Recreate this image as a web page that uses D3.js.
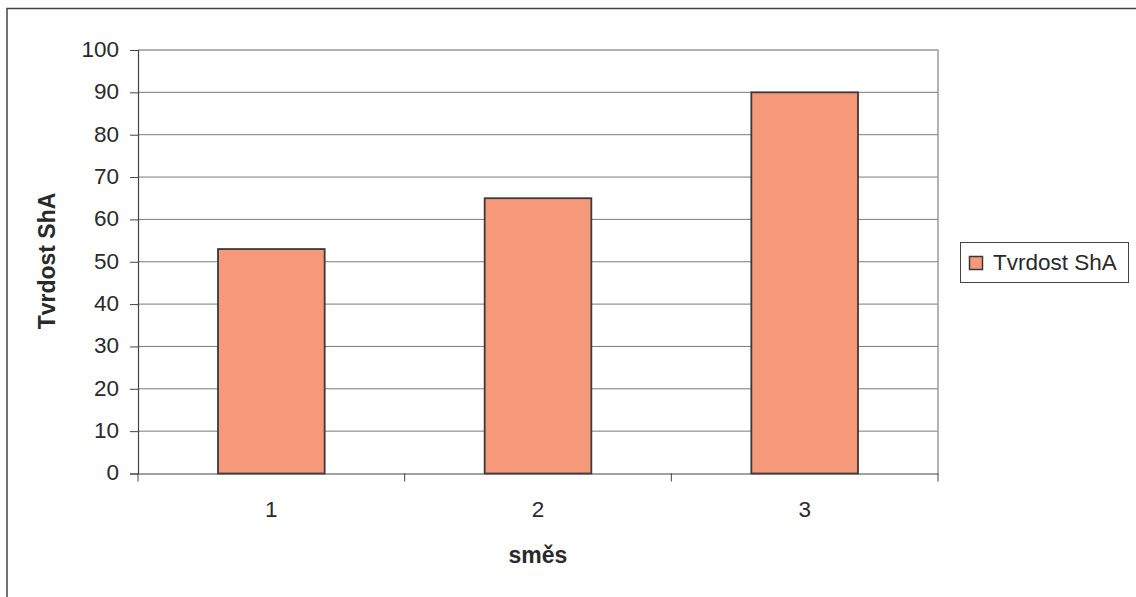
<!DOCTYPE html>
<html>
<head>
<meta charset="utf-8">
<script src="https://cdn.jsdelivr.net/npm/d3@7"></script>
<style>
  body { margin: 0; background: #fff; }
  svg { display: block; font-family: "Liberation Sans", Arial, sans-serif; }
</style>
</head>
<body>
<svg id="chart" width="1136" height="597"></svg>
<script>
// Hardness (Shore A) per mixture
const categories = ["1", "2", "3"];
const hardness = [53, 65, 90];
const yTicks = [0, 10, 20, 30, 40, 50, 60, 70, 80, 90, 100];
const seriesName = "Tvrdost ShA";
const xTitle = "směs";
const yTitle = "Tvrdost ShA";

const svg = d3.select("#chart");
const plot = { left: 138, top: 50, right: 938, bottom: 473.5 };
const textColor = "#2a2a2a";
const fontSize = 22.5;

// outer chart frame
svg.append("rect")
  .attr("x", 7).attr("y", 8.5)
  .attr("width", 1200).attr("height", 700)
  .attr("fill", "none").attr("stroke", "#444").attr("stroke-width", 1.5);

const xOuter = d3.scaleBand().domain(categories).range([plot.left, plot.right]);
const y = d3.scaleLinear().domain([0, 100]).range([plot.bottom, plot.top]);

// gridlines
svg.append("g").selectAll("line").data(yTicks.filter(d => d > 0 && d < 100)).join("line")
  .attr("x1", plot.left).attr("x2", plot.right)
  .attr("y1", d => y(d)).attr("y2", d => y(d))
  .attr("stroke", "#7a7a7a").attr("stroke-width", 1);

// plot border (top & right)
svg.append("path")
  .attr("d", `M${plot.left},${y(100)}H${plot.right}V${plot.bottom}`)
  .attr("fill", "none").attr("stroke", "#a09898").attr("stroke-width", 1.5);

// bars
svg.append("g").selectAll("rect").data(hardness).join("rect")
  .attr("x", (d, i) => xOuter(categories[i]) + xOuter.bandwidth() * 0.3)
  .attr("width", xOuter.bandwidth() * 0.4)
  .attr("y", d => y(d))
  .attr("height", d => y(0) - y(d))
  .attr("fill", "#f5997a").attr("stroke", "#3a3a3a").attr("stroke-width", 1.8);

// y axis
const yAxis = svg.append("g").attr("transform", `translate(${plot.left},0)`)
  .call(d3.axisLeft(y).tickValues(yTicks).tickSize(8).tickPadding(11).tickFormat(d3.format("d")));
yAxis.select(".domain").attr("stroke", "#444").attr("stroke-width", 1.2);
yAxis.selectAll(".tick line").attr("stroke", "#444");
yAxis.selectAll("text").attr("font-size", fontSize).attr("fill", textColor)
  .attr("font-family", "Liberation Sans, Arial, sans-serif")
  .attr("dy", "0.28em");

// x axis
const xAxis = svg.append("g").attr("transform", `translate(0,${plot.bottom})`)
  .call(d3.axisBottom(xOuter).tickSize(0).tickPadding(28));
xAxis.select(".domain").attr("stroke", "#444").attr("stroke-width", 1.2);
xAxis.selectAll("text").attr("font-size", fontSize).attr("fill", textColor)
  .attr("font-family", "Liberation Sans, Arial, sans-serif");
// category boundary ticks
const bounds = categories.map(c => xOuter(c)).concat([plot.right]);
svg.append("g").selectAll("line").data(bounds).join("line")
  .attr("x1", d => d).attr("x2", d => d)
  .attr("y1", plot.bottom).attr("y2", plot.bottom + 8)
  .attr("stroke", "#444");

// axis titles
svg.append("text").attr("x", (plot.left + plot.right) / 2).attr("y", 563)
  .attr("text-anchor", "middle").attr("font-size", 23).attr("font-weight", "bold")
  .attr("fill", textColor).text(xTitle);
svg.append("text")
  .attr("transform", `translate(55,261) rotate(-90)`)
  .attr("text-anchor", "middle").attr("font-size", 23).attr("font-weight", "bold")
  .attr("fill", textColor).text(yTitle);

// legend
const lg = svg.append("g");
lg.append("rect").attr("x", 960.5).attr("y", 242.5).attr("width", 168).attr("height", 40)
  .attr("fill", "#fff").attr("stroke", "#444").attr("stroke-width", 1);
lg.append("rect").attr("x", 969.5).attr("y", 256.5).attr("width", 13).attr("height", 13)
  .attr("fill", "#f5997a").attr("stroke", "#3a3a3a").attr("stroke-width", 1.5);
lg.append("text").attr("x", 993).attr("y", 270).attr("font-size", fontSize)
  .attr("fill", textColor).text(seriesName);
</script>
</body>
</html>
